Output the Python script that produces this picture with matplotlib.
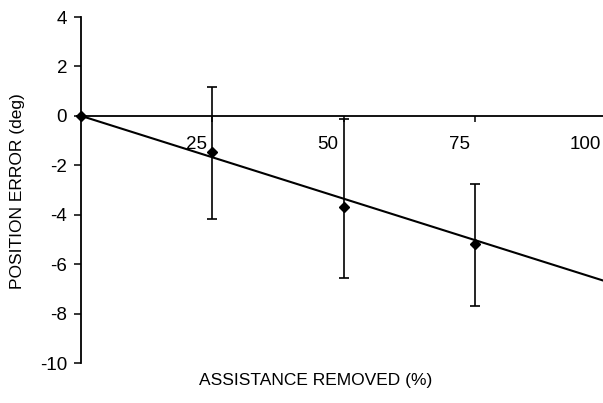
import matplotlib
matplotlib.use("Agg")
import matplotlib.pyplot as plt
import matplotlib.transforms as mtransforms
import numpy as np

# Data
assist_removed = [0, 25, 50, 75]
position_error = [0.0, -1.46, -3.70, -5.18]
err_upper = [0.0, 1.17, -0.12, -2.74]
err_lower = [0.0, -4.17, -6.56, -7.69]
fit_x = [0, 100]
fit_y = [0.0, -6.7]
x_ticks = [25, 50, 75, 100]
x_tick_labels = ["25", "50", "75", "100"]
y_ticks = [-10, -8, -6, -4, -2, 0, 2, 4]
y_tick_labels = ["-10", "-8", "-6", "-4", "-2", "0", "2", "4"]

plt.rcParams['font.family'] = ['Liberation Sans', 'DejaVu Sans']

fig = plt.figure(figsize=(6.03, 4.03), dpi=100)
ax = fig.add_axes([81/603, 1 - 363/403, (606 - 81)/603, (363 - 17)/403])

ax.set_xlim(0, 100)
ax.set_ylim(-10, 4)

ax.spines['top'].set_visible(False)
ax.spines['right'].set_visible(False)
ax.spines['bottom'].set_position(('data', 0))
for s in ['left', 'bottom']:
    ax.spines[s].set_linewidth(1.3)
    ax.spines[s].set_color('black')

# Fit line
ax.plot(fit_x, fit_y, color='black', lw=1.5, clip_on=False, zorder=3)

# Points with error bars
y = np.array(position_error)
yerr = np.array([y - np.array(err_lower), np.array(err_upper) - y])
ax.errorbar(assist_removed, position_error, yerr=yerr, fmt='D', color='black',
            ms=5, capsize=3.5, elinewidth=1.2, capthick=1.2, clip_on=False, zorder=4)

ax.set_yticks(y_ticks)
ax.set_yticklabels(y_tick_labels)
ax.set_xticks(x_ticks)
ax.set_xticklabels(x_tick_labels, ha='right')
ax.tick_params(axis='y', direction='out', length=5, width=1.1, pad=5, labelsize=13.5)
ax.tick_params(axis='x', direction='out', length=4, width=1.1, pad=6, labelsize=13.5)

offset = mtransforms.ScaledTranslation(-5/100, -6/100, fig.dpi_scale_trans)
for lab in ax.get_xticklabels():
    lab.set_transform(lab.get_transform() + offset)

fig.text(316/603, 1 - 381/403, "ASSISTANCE REMOVED (%)", ha='center', va='center', fontsize=12.5)
fig.text(18/603, 1 - 191/403, "POSITION ERROR (deg)", ha='center', va='center',
         rotation=90, fontsize=12.5)

fig.savefig("out.png", dpi=100)
